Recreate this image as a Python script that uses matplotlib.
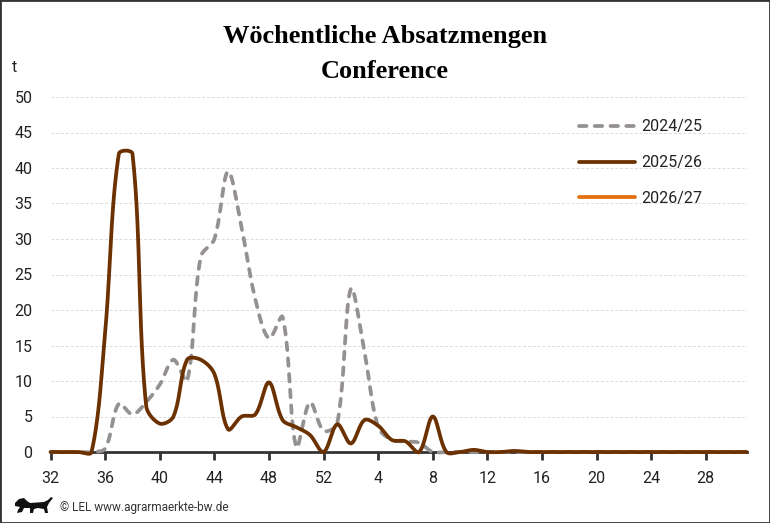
import numpy as np
import matplotlib
matplotlib.use("Agg")
import matplotlib.pyplot as plt
from matplotlib.lines import Line2D
from matplotlib.patches import Rectangle, Polygon

# Kalenderwochen des Wirtschaftsjahres (KW 32 bis KW 31)
weeks = list(range(32, 53)) + list(range(1, 32))

# Absatzmengen in t
sales_2425 = [0, 0, 0, 0, 0.5, 6.8, 5.3, 7, 9.5, 13, 10, 27.5, 30, 39.5, 31.5, 21.5,
              16, 19, 0.7, 7, 3,
              4, 23, 14, 3.5, 1.7, 1.5, 1.3, 0] + [0] * 23
sales_2526 = [0, 0, 0, 0, 17, 42, 42, 6.5, 4, 5, 13, 13, 11, 3.2, 5, 5.3,
              9.8, 4.5, 3.5, 2.4, 0,
              3.9, 1.2, 4.5, 3.7, 1.7, 1.5, 0, 5, 0, 0, 0.3, 0, 0, 0.15] + [0] * 17
sales_2627 = []

series_labels = ["2024/25", "2025/26", "2026/27"]
colors = ["#959191", "#6b3100", "#e2700c"]

W, H = 770, 523
fig = plt.figure(figsize=(W / 100, H / 100), dpi=100)
left, right, bottom, top = 50.6 / W, 746.7 / W, 1 - 452 / H, 1 - 97 / H
ax = fig.add_axes([left, bottom, right - left, top - bottom])

xmax = len(weeks) - 1
ymax = 50
sx = (right - left) * W / xmax   # px per week
sy = (top - bottom) * H / ymax   # px per t


def smooth(xs, ys, n=30):
    # Bezier-Glaettung wie in Excel (Sehnenlaengen-gewichtet)
    P = np.column_stack([np.asarray(xs, float) * sx, np.asarray(ys, float) * sy])
    out = []
    for i in range(len(P) - 1):
        p0 = P[i - 1] if i > 0 else P[i]
        p1, p2 = P[i], P[i + 1]
        p3 = P[i + 2] if i + 2 < len(P) else P[i + 1]
        d01 = np.hypot(*(p1 - p0))
        d12 = np.hypot(*(p2 - p1))
        d23 = np.hypot(*(p3 - p2))
        f1 = d12 / (d01 + d12) / 3 if d01 + d12 > 0 else 0
        f2 = d12 / (d12 + d23) / 3 if d12 + d23 > 0 else 0
        c1 = p1 + (p2 - p0) * f1
        c2 = p2 - (p3 - p1) * f2
        t = np.linspace(0, 1, n)[:, None]
        seg = ((1 - t) ** 3) * p1 + 3 * ((1 - t) ** 2) * t * c1 + 3 * (1 - t) * t ** 2 * c2 + t ** 3 * p2
        out.append(seg if i == 0 else seg[1:])
    out = np.vstack(out)
    return out[:, 0] / sx, out[:, 1] / sy


x = np.arange(len(weeks))
gx, gy = smooth(x, sales_2425)
ax.plot(gx, gy, color=colors[0], lw=2.7, linestyle=(0, (2.0, 2.2)),
        dash_capstyle="round", solid_capstyle="round", zorder=3, clip_on=False)
bx, by = smooth(x, sales_2526)
ax.plot(bx, by, color=colors[1], lw=2.7, solid_capstyle="round", zorder=4, clip_on=False)
if sales_2627:
    ox, oy = smooth(np.arange(len(sales_2627)), sales_2627)
    ax.plot(ox, oy, color=colors[2], lw=2.7, zorder=5)

ax.set_xlim(0, xmax)
ax.set_ylim(0, ymax)
ax.set_yticks(range(0, 51, 5))
ax.set_xticks(x[::4])
ax.set_xticklabels([str(w) for w in weeks[::4]])
ax.grid(axis="y", color="#dcdcdc", linestyle=(0, (3, 2)), lw=0.7)
ax.set_axisbelow(True)
for s in ["top", "right", "left"]:
    ax.spines[s].set_visible(False)
ax.spines["bottom"].set_color("#333333")
ax.spines["bottom"].set_linewidth(2)
ax.spines["bottom"].set_zorder(2)
ax.tick_params(axis="x", length=6, width=2, color="#333333", pad=8,
               labelsize=11.5, labelcolor="#222222")
ax.tick_params(axis="y", length=0, pad=13, labelsize=11.5, labelcolor="#222222")
for lab in ax.get_xticklabels() + ax.get_yticklabels():
    lab.set_family("Roboto")

fig.text(385 / W, 1 - 36 / H, "Wöchentliche Absatzmengen", ha="center", va="center",
         family="Liberation Serif", weight="bold", fontsize=19)
fig.text(385 / W, 1 - 71 / H, "Conference", ha="center", va="center",
         family="Liberation Serif", weight="bold", fontsize=19)
fig.text(12 / W, 1 - 68 / H, "t", ha="left", va="center", family="Roboto",
         fontsize=11.5, color="#222222")

# Legende
handles = [Line2D([], [], color=colors[0], lw=2.7, linestyle=(0, (2.0, 2.2)), dash_capstyle="round"),
           Line2D([], [], color=colors[1], lw=2.7, solid_capstyle="round"),
           Line2D([], [], color=colors[2], lw=2.7, solid_capstyle="round")]
leg = fig.legend(handles, series_labels, loc="upper left", bbox_to_anchor=(565 / W, 1 - 105 / H),
                 frameon=False, handlelength=3.5, handletextpad=0.4, labelspacing=1.3,
                 prop={"family": "Roboto", "size": 11.5})
for t in leg.get_texts():
    t.set_color("#222222")

# Loewe (Landeswappen) grob als Silhouette
lion_px = [(15, 503), (19, 499), (24, 498), (27, 501), (30, 503), (44, 502), (48, 500),
           (51, 497), (53, 498), (49, 503), (47, 507), (48, 513), (45, 513), (44, 509),
           (38, 508), (34, 509), (33, 513), (30, 513), (30, 508), (24, 508), (22, 512),
           (17, 513), (18, 510), (20, 507), (15, 506)]
fig.patches.append(Polygon([(px / W, 1 - py / H) for px, py in lion_px], closed=True,
                           transform=fig.transFigure, facecolor="#111111", edgecolor="none"))
fig.text(60 / W, 1 - 508 / H, "© LEL www.agrarmaerkte-bw.de", ha="left", va="center",
         family="Roboto", fontsize=8.5, color="#333333")

fig.patches.append(Rectangle((0, 0), 1, 1, transform=fig.transFigure, fill=False,
                             edgecolor="#333333", lw=2))

fig.savefig("out.png", dpi=100)
